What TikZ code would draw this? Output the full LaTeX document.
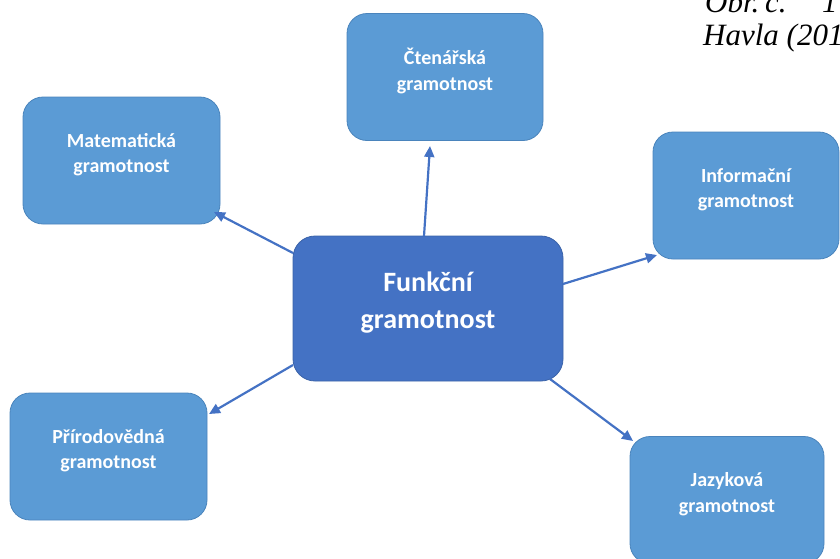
\documentclass[tikz,border=0pt]{standalone}
\usepackage{fontspec}
\setmainfont{Carlito}
\newfontfamily\capfont{Liberation Serif}
\usetikzlibrary{arrows.meta}
\definecolor{boxfill}{HTML}{5B9BD5}
\definecolor{boxline}{HTML}{4A84BC}
\definecolor{hubfill}{HTML}{4472C4}
\definecolor{hubline}{HTML}{3A62A8}
\definecolor{arrowblue}{HTML}{4472C4}
\tikzset{
  leaf/.style={draw=boxline, line width=0.8pt, fill=boxfill, rounded corners=20pt,
    inner sep=0pt, minimum width=#1, minimum height=127pt},
  hub/.style={draw=hubline, line width=0.8pt, fill=hubfill, rounded corners=22pt,
    inner sep=0pt, minimum width=270pt, minimum height=145pt},
  leaftext/.style={text=white, align=center, font=\fontsize{20}{25.5}\selectfont\bfseries, yshift=6pt},
  hubtext/.style={text=white, align=center, font=\fontsize{28}{37}\selectfont\bfseries, yshift=6pt},
  link/.style={draw=arrowblue, line width=2.2pt, -{Triangle[length=11pt,width=10pt]}},
  caption/.style={font=\fontsize{31}{33}\selectfont\capfont\itshape, anchor=base west, inner sep=0pt}
}
\begin{document}
\begin{tikzpicture}[x=1pt, y=-1pt]
  \useasboundingbox (0,0) rectangle (840,558);
  \clip (0,0) rectangle (840,558);

  % caption lines at the top right
  \node[caption] (obr) at (705,12) {Obr.};
  \node[caption] (cis) at (765,12) {č.};
  \node[caption] (jed) at (822,12) {1};
  \node[caption] (hav) at (703,45) {Havla (2013};

  % central box
  \node[hub, label={[hubtext]center:Funkční\\gramotnost}] (hub) at (428,308.5) {};

  % surrounding boxes
  \node[leaf=196pt, label={[leaftext]center:Čtenářská\\gramotnost}] (cten) at (445,77) {};
  \node[leaf=197pt, label={[leaftext]center:Matematická\\gramotnost}] (mat) at (121.5,160.5) {};
  \node[leaf=186pt, label={[leaftext]center:Informační\\gramotnost}] (inf) at (746,195.5) {};
  \node[leaf=197pt, label={[leaftext]center:Přírodovědná\\gramotnost}] (prir) at (108.5,456.5) {};
  \node[leaf=194pt, label={[leaftext]center:Jazyková\\gramotnost}] (jaz) at (727,500) {};

  % arrow start points on the central box and tips near the outer boxes
  \coordinate (sC) at (424,236);
  \coordinate (tC) at (430,146);
  \coordinate (sM) at (293,253);
  \coordinate (tM) at (214,212);
  \coordinate (sI) at (563,284);
  \coordinate (tI) at (657,255);
  \coordinate (sP) at (293,365);
  \coordinate (tP) at (209,414);
  \coordinate (sJ) at (550,379);
  \coordinate (tJ) at (633,441);

  \draw[link] (sC) -- (tC);
  \draw[link] (sM) -- (tM);
  \draw[link] (sI) -- (tI);
  \draw[link] (sP) -- (tP);
  \draw[link] (sJ) -- (tJ);
\end{tikzpicture}
\end{document}
